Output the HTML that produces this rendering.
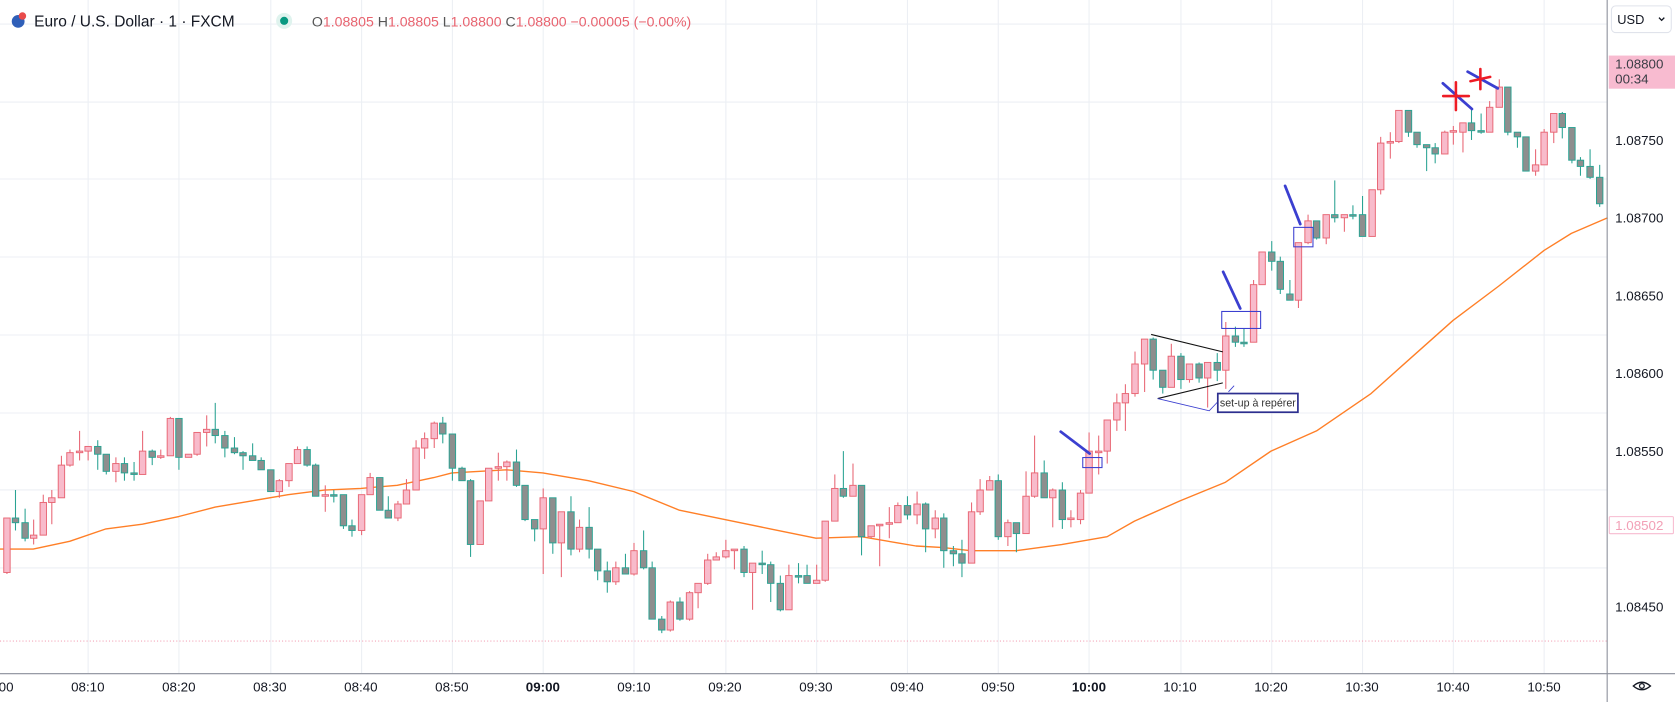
<!DOCTYPE html>
<html><head><meta charset="utf-8">
<style>
html,body{margin:0;padding:0;background:#fff;overflow:hidden}
svg{display:block}
text{font-family:"Liberation Sans",Arial,sans-serif}
</style></head>
<body>
<svg id="chart" width="1675" height="702" viewBox="0 0 1568 657" preserveAspectRatio="none" xmlns="http://www.w3.org/2000/svg">
  <rect x="0" y="0" width="1568" height="657" fill="#ffffff"/>
  <g id="grid"></g>
  <line x1="0" y1="600" x2="1504" y2="600" stroke="#f3a5b8" stroke-width="1" stroke-dasharray="1,2"/>
  <g id="ma"></g>
  <g id="candles"></g>

  <!-- drawings -->
  <g>
    <line x1="993" y1="404" x2="1020" y2="424.5" stroke="#3b3fd0" stroke-width="2.6" stroke-linecap="round"/>
    <rect x="1013.6" y="428.2" width="18" height="9.4" fill="none" stroke="#3b3fd0" stroke-width="1"/>
    <line x1="1077.6" y1="313" x2="1144.7" y2="329.3" stroke="#111" stroke-width="1"/>
    <line x1="1083.7" y1="373" x2="1144.7" y2="358.3" stroke="#111" stroke-width="1"/>
    <polyline points="1083.7,373 1132,384.5 1140,376" fill="none" stroke="#3b3fd0" stroke-width="0.8"/>
    <line x1="1150" y1="366.7" x2="1155.3" y2="361" stroke="#3b3fd0" stroke-width="0.8"/>
    <rect x="1140" y="368.3" width="75" height="17.5" fill="#fff" stroke="#2d2f8f" stroke-width="1.6"/>
    <text x="1177.5" y="380.5" font-size="10" fill="#333" text-anchor="middle">set-up à repérer</text>
    <line x1="1145" y1="254.4" x2="1161" y2="288.7" stroke="#3b3fd0" stroke-width="2.6" stroke-linecap="round"/>
    <rect x="1143.7" y="291.5" width="36.4" height="15.9" fill="none" stroke="#3b3fd0" stroke-width="1"/>
    <line x1="1203" y1="174" x2="1217.2" y2="209.7" stroke="#3b3fd0" stroke-width="2.6" stroke-linecap="round"/>
    <rect x="1211.1" y="212.8" width="18" height="18.2" fill="none" stroke="#3b3fd0" stroke-width="1"/>
    <line x1="1350.7" y1="78" x2="1377.9" y2="102" stroke="#3b3fd0" stroke-width="2.6" stroke-linecap="round"/>
    <line x1="1373.9" y1="67.1" x2="1402.1" y2="82.7" stroke="#3b3fd0" stroke-width="2.6" stroke-linecap="round"/>
    <g stroke="#ee1c25" stroke-width="2.4" stroke-linecap="round">
      <line x1="1351" y1="89.9" x2="1375" y2="89.9"/><line x1="1362.9" y1="77" x2="1362.9" y2="103"/>
    </g>
    <g stroke="#ee1c25" stroke-width="2.4" stroke-linecap="round">
      <line x1="1376.5" y1="76" x2="1395" y2="72"/><line x1="1385.8" y1="64.6" x2="1385.8" y2="83.4"/>
    </g>
  </g>

  <!-- axes -->
  <line x1="1504.5" y1="0" x2="1504.5" y2="657" stroke="#8a8e99" stroke-width="1"/>
  <line x1="0" y1="630.5" x2="1568" y2="630.5" stroke="#8a8e99" stroke-width="1"/>
  <g id="yticks"></g>
  <g id="xticks"></g>

  <g>
    <rect x="1506" y="52" width="62" height="31" fill="#f8bbd0"/>
    <text x="1512" y="64" font-size="12.5" fill="#3a3d45">1.08800</text>
    <text x="1512" y="78" font-size="12.5" fill="#3a3d45">00:34</text>
  </g>
  <g>
    <rect x="1506.5" y="483.5" width="60" height="16" fill="#fff" stroke="#f8bbd0" stroke-width="1" rx="1"/>
    <text x="1512" y="496" font-size="12.5" fill="#f2a0b6">1.08502</text>
  </g>
  <g>
    <rect x="1508.5" y="5.5" width="56" height="25" rx="4" fill="#fff" stroke="#e0e3eb"/>
    <text x="1514" y="22.5" font-size="12" fill="#131722">USD</text>
    <path d="M1553 16.5 l2.5 2.5 l2.5 -2.5" fill="none" stroke="#131722" stroke-width="1.2"/>
  </g>
  <g>
    <path d="M1529 642 q8 -7 16 0 q-8 7 -16 0z" fill="none" stroke="#131722" stroke-width="1.3"/>
    <circle cx="1537" cy="642" r="2.2" fill="none" stroke="#131722" stroke-width="1.2"/>
  </g>

  <!-- header -->
  <g>
    <circle cx="17" cy="20" r="6" fill="#2f5fb8"/>
    <circle cx="21" cy="15" r="3.5" fill="#e94b4b"/>
    <text x="32" y="25" font-size="14.5" fill="#131722">Euro / U.S. Dollar · 1 · FXCM</text>
    <circle cx="266" cy="19.5" r="7.5" fill="#dff3ee"/>
    <circle cx="266" cy="19.5" r="3.8" fill="#089981"/>
    <text x="292" y="25" font-size="13.2" fill="#e8636f"><tspan fill="#555">O</tspan>1.08805 <tspan fill="#555">H</tspan>1.08805 <tspan fill="#555">L</tspan>1.08800 <tspan fill="#555">C</tspan>1.08800 −0.00005 (−0.00%)</text>
  </g>
</svg>
<script>
// ---- data ----
const opens  = [1.08472,1.08507,1.08504,1.08494,1.08496,1.08517,1.08520,1.08541,1.08549,1.08550,1.08553,1.08548,1.08537,1.08542,1.08536,1.08535,1.08550,1.08546,1.08547,1.08571,1.08546,1.08548,1.08562,1.08564,1.08560,1.08552,1.08549,1.08547,1.08544,1.08538,1.08524,1.08531,1.08542,1.08551,1.08541,1.08521,1.08522,1.08522,1.08502,1.08499,1.08522,1.08533,1.08512,1.08507,1.08516,1.08525,1.08552,1.08558,1.08568,1.08561,1.08539,1.08531,1.08490,1.08518,1.08539,1.08540,1.08543,1.08528,1.08506,1.08500,1.08520,1.08491,1.08511,1.08487,1.08501,1.08487,1.08473,1.08466,1.08475,1.08471,1.08486,1.08475,1.08442,1.08435,1.08453,1.08442,1.08459,1.08465,1.08480,1.08482,1.08486,1.08487,1.08472,1.08478,1.08477,1.08465,1.08448,1.08470,1.08470,1.08465,1.08467,1.08505,1.08526,1.08521,1.08528,1.08495,1.08502,1.08503,1.08504,1.08515,1.08509,1.08516,1.08500,1.08507,1.08486,1.08484,1.08478,1.08511,1.08525,1.08531,1.08495,1.08504,1.08497,1.08521,1.08536,1.08520,1.08525,1.08506,1.08506,1.08523,1.08549,1.08550,1.08570,1.08581,1.08587,1.08606,1.08622,1.08602,1.08591,1.08611,1.08596,1.08606,1.08597,1.08607,1.08602,1.08624,1.08620,1.08620,1.08657,1.08678,1.08672,1.08651,1.08647,1.08684,1.08698,1.08687,1.08702,1.08700,1.08702,1.08702,1.08688,1.08718,1.08748,1.08749,1.08769,1.08755,1.08747,1.08745,1.08741,1.08755,1.08755,1.08761,1.08756,1.08755,1.08771,1.08784,1.08755,1.08752,1.08730,1.08734,1.08755,1.08767,1.08758,1.08737,1.08733,1.08726];
const highs  = [1.08507,1.08525,1.08513,1.08506,1.08522,1.08525,1.08547,1.08551,1.08563,1.08553,1.08557,1.08548,1.08546,1.08546,1.08543,1.08563,1.08551,1.08551,1.08572,1.08571,1.08548,1.08562,1.08573,1.08581,1.08563,1.08559,1.08550,1.08555,1.08546,1.08538,1.08532,1.08542,1.08553,1.08553,1.08542,1.08528,1.08525,1.08522,1.08506,1.08522,1.08536,1.08533,1.08521,1.08518,1.08532,1.08557,1.08562,1.08569,1.08572,1.08561,1.08540,1.08532,1.08518,1.08539,1.08549,1.08544,1.08551,1.08528,1.08506,1.08526,1.08520,1.08511,1.08521,1.08506,1.08514,1.08487,1.08479,1.08479,1.08484,1.08491,1.08499,1.08479,1.08444,1.08454,1.08456,1.08460,1.08465,1.08484,1.08485,1.08493,1.08487,1.08489,1.08478,1.08486,1.08479,1.08470,1.08477,1.08478,1.08477,1.08477,1.08505,1.08535,1.08550,1.08542,1.08528,1.08502,1.08503,1.08514,1.08517,1.08521,1.08524,1.08517,1.08512,1.08510,1.08489,1.08493,1.08517,1.08532,1.08534,1.08535,1.08506,1.08504,1.08537,1.08560,1.08544,1.08526,1.08530,1.08512,1.08525,1.08562,1.08560,1.08570,1.08587,1.08593,1.08614,1.08622,1.08623,1.08602,1.08619,1.08613,1.08606,1.08607,1.08607,1.08613,1.08633,1.08630,1.08629,1.08660,1.08678,1.08685,1.08675,1.08660,1.08684,1.08702,1.08698,1.08702,1.08724,1.08702,1.08708,1.08714,1.08718,1.08752,1.08755,1.08769,1.08769,1.08755,1.08747,1.08748,1.08756,1.08759,1.08761,1.08771,1.08767,1.08775,1.08789,1.08784,1.08755,1.08752,1.08744,1.08757,1.08767,1.08768,1.08758,1.08739,1.08744,1.08734];
const lows   = [1.08471,1.08499,1.08492,1.08490,1.08496,1.08503,1.08520,1.08540,1.08544,1.08544,1.08538,1.08535,1.08530,1.08531,1.08531,1.08535,1.08541,1.08545,1.08547,1.08538,1.08546,1.08547,1.08553,1.08555,1.08546,1.08548,1.08538,1.08544,1.08538,1.08524,1.08520,1.08527,1.08542,1.08540,1.08521,1.08511,1.08517,1.08500,1.08495,1.08496,1.08522,1.08512,1.08507,1.08505,1.08516,1.08525,1.08545,1.08552,1.08555,1.08531,1.08531,1.08482,1.08490,1.08518,1.08531,1.08531,1.08527,1.08505,1.08492,1.08471,1.08484,1.08469,1.08483,1.08485,1.08481,1.08467,1.08459,1.08464,1.08471,1.08470,1.08474,1.08442,1.08433,1.08434,1.08441,1.08441,1.08449,1.08464,1.08480,1.08481,1.08474,1.08469,1.08448,1.08471,1.08453,1.08447,1.08448,1.08465,1.08465,1.08465,1.08466,1.08505,1.08520,1.08521,1.08483,1.08494,1.08476,1.08494,1.08504,1.08506,1.08503,1.08485,1.08494,1.08475,1.08476,1.08469,1.08478,1.08509,1.08525,1.08493,1.08489,1.08485,1.08497,1.08520,1.08520,1.08501,1.08500,1.08501,1.08503,1.08523,1.08535,1.08542,1.08563,1.08563,1.08585,1.08588,1.08596,1.08587,1.08591,1.08590,1.08594,1.08594,1.08578,1.08595,1.08590,1.08617,1.08617,1.08620,1.08657,1.08666,1.08651,1.08647,1.08642,1.08683,1.08686,1.08683,1.08697,1.08691,1.08699,1.08688,1.08688,1.08715,1.08738,1.08748,1.08752,1.08745,1.08730,1.08735,1.08741,1.08747,1.08742,1.08750,1.08754,1.08755,1.08771,1.08753,1.08745,1.08730,1.08727,1.08734,1.08748,1.08751,1.08735,1.08727,1.08725,1.08707];
const closes = [1.08507,1.08504,1.08494,1.08496,1.08517,1.08520,1.08541,1.08549,1.08550,1.08553,1.08548,1.08537,1.08542,1.08536,1.08535,1.08550,1.08546,1.08547,1.08571,1.08546,1.08548,1.08562,1.08564,1.08560,1.08552,1.08549,1.08547,1.08544,1.08538,1.08524,1.08531,1.08542,1.08551,1.08541,1.08521,1.08522,1.08521,1.08502,1.08499,1.08522,1.08533,1.08512,1.08507,1.08516,1.08525,1.08552,1.08558,1.08568,1.08561,1.08539,1.08531,1.08490,1.08518,1.08539,1.08540,1.08543,1.08528,1.08506,1.08500,1.08520,1.08491,1.08511,1.08487,1.08501,1.08487,1.08473,1.08466,1.08475,1.08471,1.08486,1.08475,1.08442,1.08435,1.08453,1.08442,1.08459,1.08465,1.08480,1.08482,1.08486,1.08487,1.08472,1.08478,1.08477,1.08465,1.08448,1.08470,1.08469,1.08465,1.08467,1.08505,1.08526,1.08521,1.08528,1.08495,1.08502,1.08503,1.08504,1.08515,1.08509,1.08516,1.08500,1.08507,1.08486,1.08484,1.08478,1.08511,1.08525,1.08531,1.08495,1.08504,1.08497,1.08521,1.08536,1.08520,1.08525,1.08506,1.08507,1.08523,1.08550,1.08550,1.08570,1.08581,1.08587,1.08606,1.08622,1.08602,1.08591,1.08611,1.08596,1.08606,1.08597,1.08607,1.08602,1.08624,1.08620,1.08619,1.08657,1.08678,1.08672,1.08654,1.08647,1.08684,1.08698,1.08687,1.08702,1.08700,1.08702,1.08701,1.08688,1.08718,1.08748,1.08749,1.08769,1.08755,1.08747,1.08745,1.08741,1.08755,1.08756,1.08761,1.08756,1.08755,1.08771,1.08784,1.08755,1.08752,1.08730,1.08734,1.08755,1.08767,1.08758,1.08737,1.08733,1.08726,1.08709];
const firstBarMinute = 1; // 08:01
const maMinutes = [0,4,8,12,16,20,24,28,32,36,40,44,48,50,56,60,65,70,75,80,85,90,95,99,101,104,107,112,117,122,125,130,135,140,145,151,155,160,165,170,173,177];
const maValues  = [1.08487,1.08487,1.08492,1.08500,1.08503,1.08508,1.08514,1.08518,1.08522,1.08525,1.08526,1.08528,1.08533,1.08536,1.08538,1.08536,1.08531,1.08524,1.08512,1.08506,1.08500,1.08494,1.08495,1.08491,1.08489,1.08488,1.08486,1.08486,1.08490,1.08495,1.08505,1.08518,1.08530,1.08550,1.08563,1.08587,1.08608,1.08634,1.08656,1.08679,1.08690,1.08700];
const priceTicks = [1.08750,1.08700,1.08650,1.08600,1.08550,1.08450];
const timeTickMinutes = [0,10,20,30,40,50,60,70,80,90,100,110,120,130,140,150,160,170];
const timeTickLabels = ["08:00","08:10","08:20","08:30","08:40","08:50","09:00","09:10","09:20","09:30","09:40","09:50","10:00","10:10","10:20","10:30","10:40","10:50"];
const gridPrices = [1.08800,1.08750,1.08700,1.08650,1.08600,1.08550,1.08500,1.08450];

// ---- scales ----
const xScale = m => -3 + 8.52 * m;
const yScale = p => 131 + (1.0875 - p) * 145600;
const NS = "http://www.w3.org/2000/svg";
function mk(tag, attrs, parent){ const e=document.createElementNS(NS,tag); for(const k in attrs) e.setAttribute(k,attrs[k]); parent.appendChild(e); return e; }

// grid
const grid = document.getElementById('grid');
gridPrices.forEach(p=>{
  const y = Math.round(yScale(p) - 36.5) + 0.5;
  const l = mk('line',{x1:0,x2:1504,y1:y,y2:y,stroke:'#eceff4','stroke-width':1},grid);
  
  
});
timeTickMinutes.forEach(m=>{
  if(m===0) return;
  const x = Math.round(xScale(m)) + 0.5;
  const l = mk('line',{x1:x,x2:x,y1:0,y2:630,stroke:'#eceff4','stroke-width':1},grid);
  
  
});

// moving average
const maG = document.getElementById('ma');
const pts = maMinutes.map((m,i)=>xScale(m).toFixed(1)+','+yScale(maValues[i]).toFixed(1)).join(' ');
const maLine = mk('polyline',{points:pts,fill:'none',stroke:'#ff7f27','stroke-width':1.3,'stroke-linejoin':'round'},maG);



// candles
const cg = document.getElementById('candles');
opens.forEach((o,i)=>{
  const c = closes[i], h = highs[i], l = lows[i];
  const x = xScale(firstBarMinute + i);
  const up = c >= o;
  const stroke = up ? '#e86775' : '#2aa393';
  const fill = up ? '#f8bbcb' : '#8e8e8e';
  const g = mk('g',{},cg);
  
  
  const xc = Math.round(x) + 0.5;
  mk('line',{x1:xc,x2:xc,y1:yScale(h),y2:yScale(l),stroke:stroke,'stroke-width':1},g);
  const top = yScale(Math.max(o,c)), bot = yScale(Math.min(o,c));
  mk('rect',{x:xc-3,y:top,width:6,height:Math.max(bot-top,0.8),fill:fill,stroke:stroke,'stroke-width':0.9},g);
});

// price axis
const yt = document.getElementById('yticks');
priceTicks.forEach(p=>{
  const t = mk('text',{x:1512,y:yScale(p)+4.5,'font-size':12.5,fill:'#131722'},yt);
  t.textContent = p.toFixed(5);
  
  
});
// time axis
const xt = document.getElementById('xticks');
timeTickMinutes.forEach((m,i)=>{
  const lab = timeTickLabels[i];
  const bold = lab==='09:00' || lab==='10:00';
  const t = mk('text',{x:xScale(m),y:647,'font-size':12.5,fill:'#131722','text-anchor':'middle','font-weight':bold?'bold':'normal'},xt);
  t.textContent = lab;
  
  
});
</script>
</body></html>
